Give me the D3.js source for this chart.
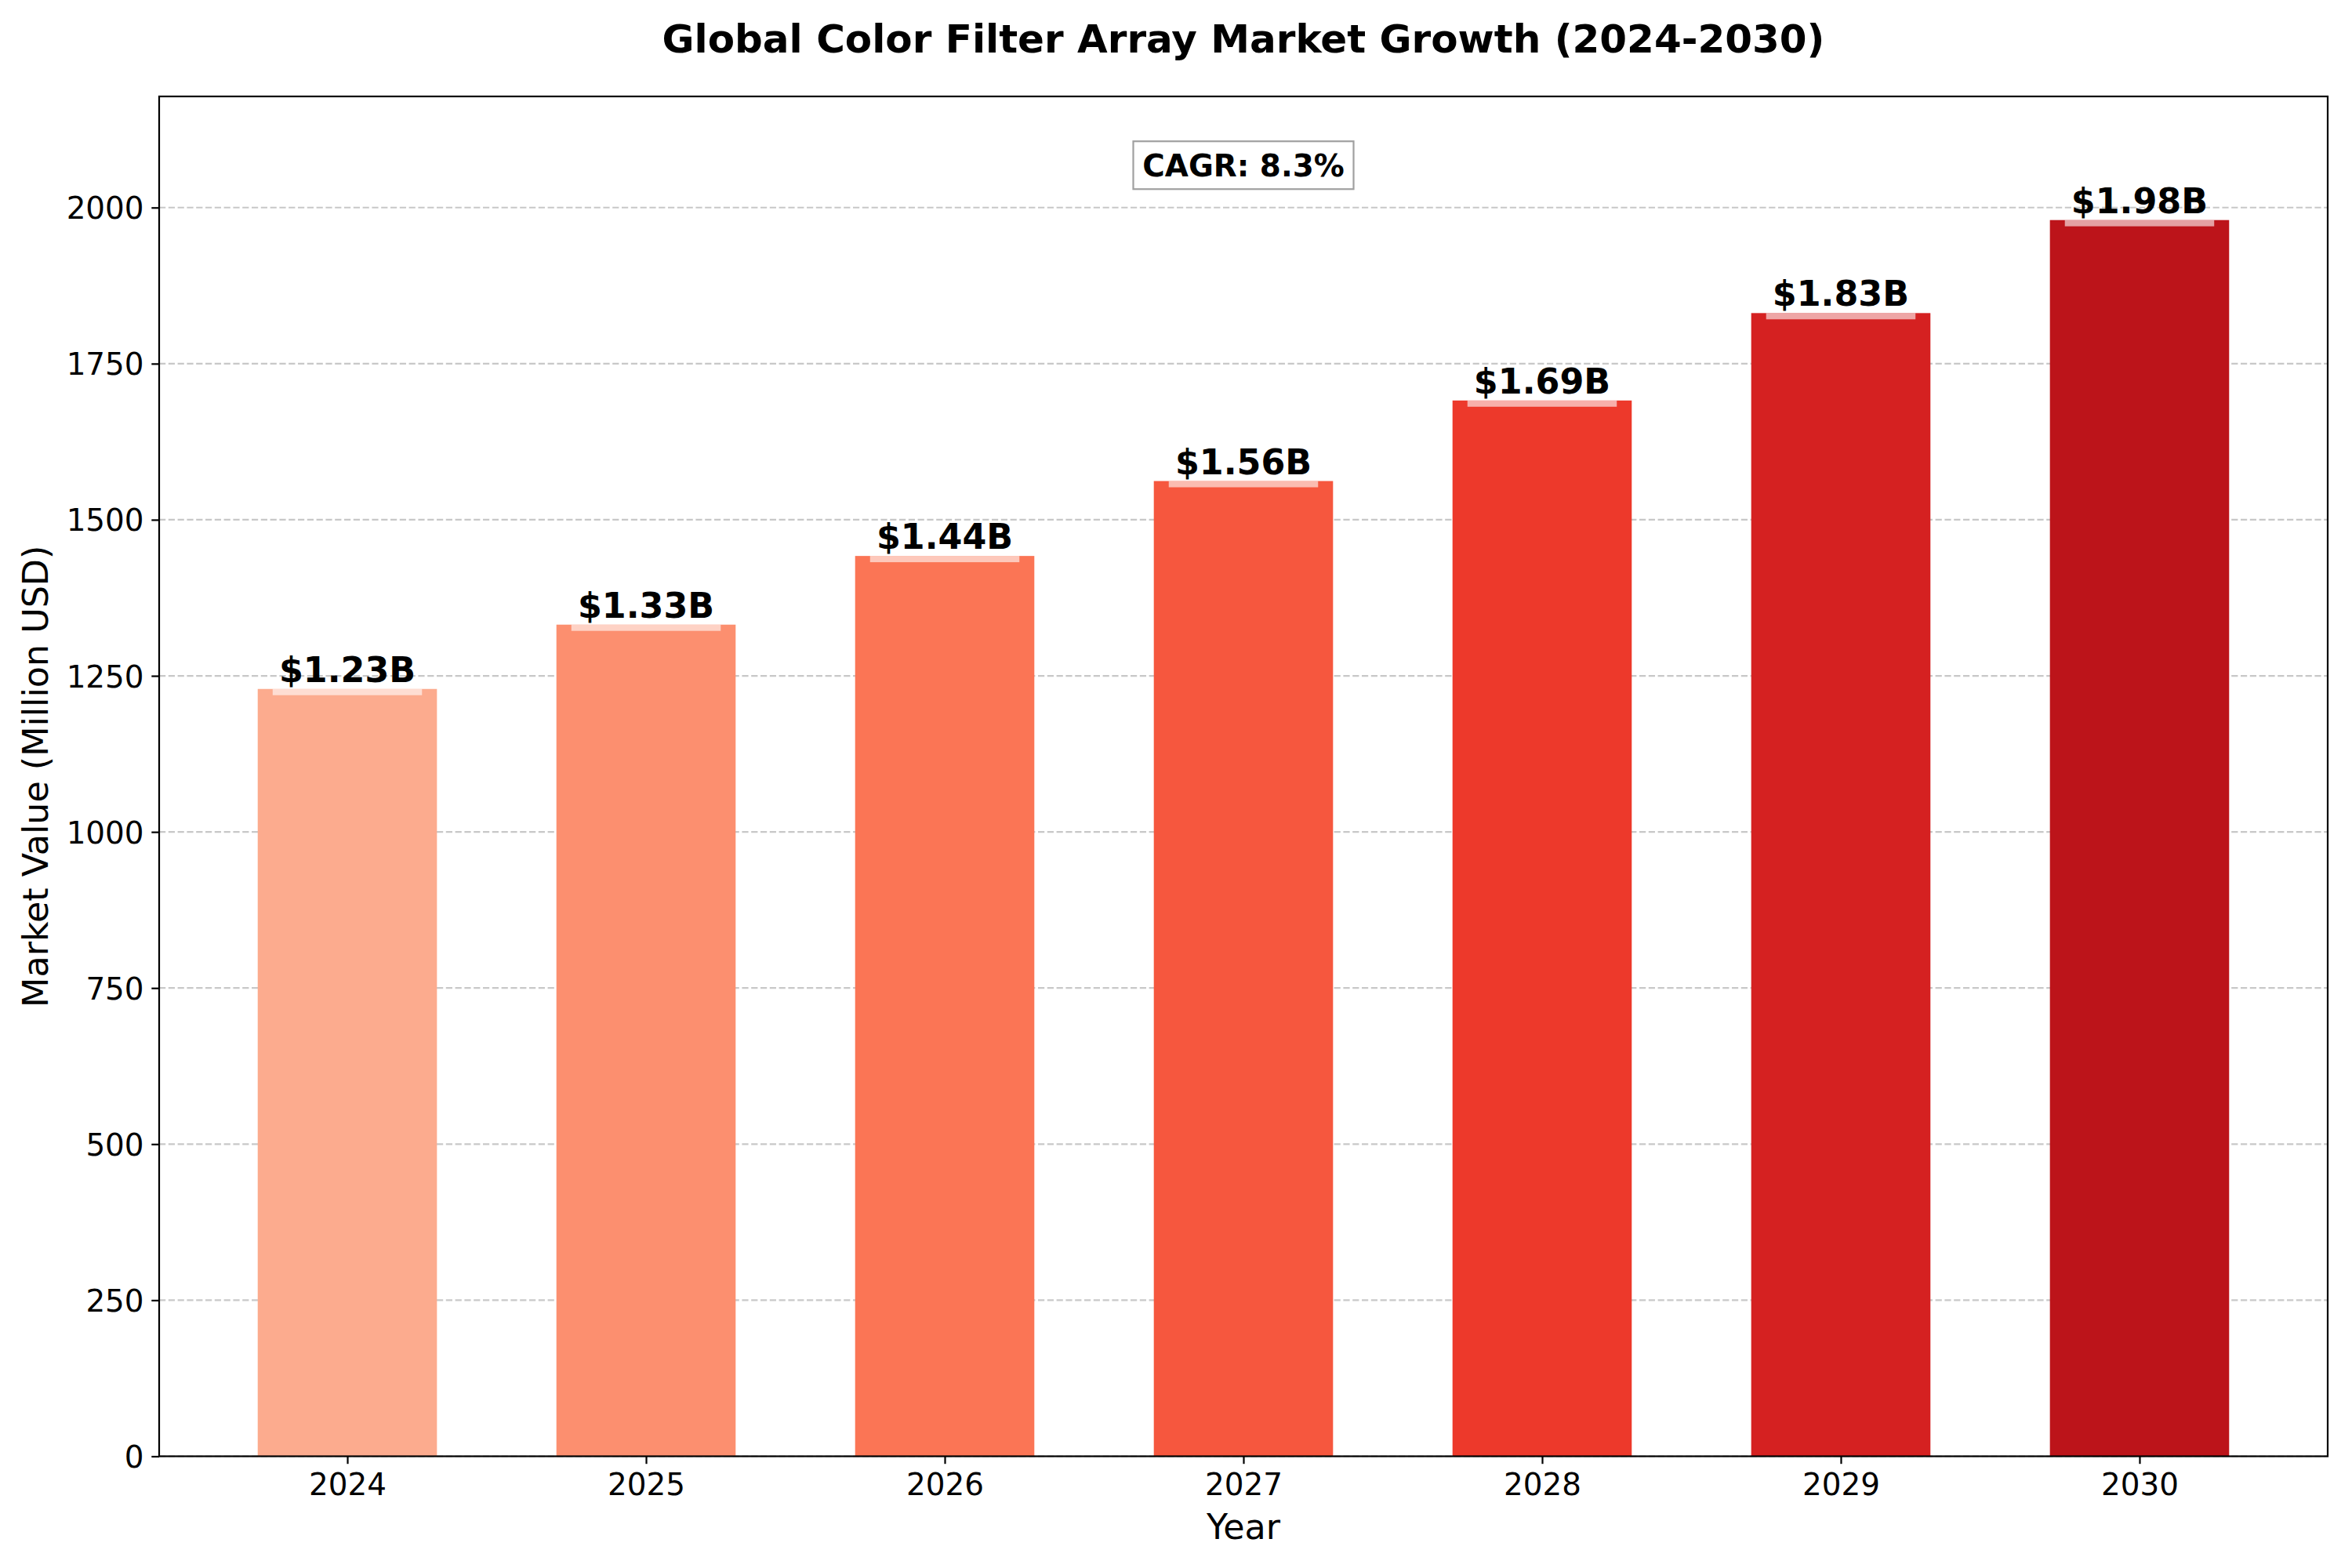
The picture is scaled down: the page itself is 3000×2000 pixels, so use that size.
<!DOCTYPE html>
<html>
<head>
<meta charset="utf-8">
<script src="https://cdn.jsdelivr.net/npm/d3@7"></script>
<style>
  html, body { margin: 0; padding: 0; background: #ffffff; }
  svg { display: block; }
  text { font-family: "DejaVu Sans", sans-serif; }
</style>
</head>
<body>
<svg id="chart" width="3000" height="2000"></svg>
<script>
// ---- data ----
const years = ["2024", "2025", "2026", "2027", "2028", "2029", "2030"];
const marketValues = [1229, 1332, 1442, 1562, 1691, 1831, 1980];
const barColors = ["#fcab8e", "#fc8f6f", "#fb7555", "#f6573e", "#ed392b", "#d52121", "#bc141a"];
const yTicks = [0, 250, 500, 750, 1000, 1250, 1500, 1750, 2000];
const titleText = "Global Color Filter Array Market Growth (2024-2030)";
const xLabelText = "Year";
const yLabelText = "Market Value (Million USD)";
const cagrText = "CAGR: 8.3%";

// ---- layout ----
const W = 3000, H = 2000;
const plotL = 203, plotR = 2969, plotT = 123, plotB = 1857.5;
const svg = d3.select("#chart");
svg.append("rect").attr("width", W).attr("height", H).attr("fill", "#ffffff");

const idx = years.map((d, i) => i);
const x = d3.scaleLinear().domain([-0.63, years.length - 1 + 0.63]).range([plotL, plotR]);
const yMax = d3.max(marketValues) * 1.1;
const y = d3.scaleLinear().domain([0, yMax]).range([plotB, plotT]);

// grid
const grid = svg.append("g");
grid.selectAll("line").data(yTicks).join("line")
  .attr("x1", plotL).attr("x2", plotR)
  .attr("y1", d => y(d)).attr("y2", d => y(d))
  .attr("stroke", "#b0b0b0").attr("stroke-opacity", 0.7)
  .attr("stroke-width", 2.2).attr("stroke-dasharray", "8.2,3.6");

// bars
const barW = 0.6, hiW = 0.5;
svg.append("g").selectAll("rect").data(idx).join("rect")
  .attr("x", i => x(i - barW / 2))
  .attr("width", i => x(i + barW / 2) - x(i - barW / 2))
  .attr("y", i => y(marketValues[i]))
  .attr("height", i => y(0) - y(marketValues[i]))
  .attr("fill", i => barColors[i]);

// highlight strips at the top of each bar
svg.append("g").selectAll("rect").data(idx).join("rect")
  .attr("x", i => x(i - hiW / 2))
  .attr("width", i => x(i + hiW / 2) - x(i - hiW / 2))
  .attr("y", i => y(marketValues[i]))
  .attr("height", i => y(marketValues[i] - 10) - y(marketValues[i]))
  .attr("fill", "#ffffff").attr("fill-opacity", 0.6);

// value labels
svg.append("g").selectAll("text").data(idx).join("text")
  .attr("x", i => x(i))
  .attr("y", i => y(marketValues[i]) - 9)
  .attr("text-anchor", "middle")
  .attr("font-size", 44.4).attr("font-weight", "bold").attr("fill", "#000")
  .text(i => "$" + (marketValues[i] / 1000).toFixed(2) + "B");

// axes
const xAxis = d3.axisBottom(x).tickValues(idx).tickFormat(i => years[i])
  .tickSizeInner(9.7).tickSizeOuter(0).tickPadding(9.7);
const gx = svg.append("g").attr("transform", `translate(0,${plotB})`).call(xAxis);
gx.select(".domain").remove();
gx.selectAll(".tick line").attr("stroke", "#000").attr("stroke-width", 2.2);
gx.selectAll(".tick text").attr("font-size", 38.9).attr("fill", "#000")
  .attr("font-family", "DejaVu Sans").attr("dy", null).attr("y", 49.5);

const yAxis = d3.axisLeft(y).tickValues(yTicks).tickFormat(d3.format("d"))
  .tickSizeInner(9.7).tickSizeOuter(0).tickPadding(9.7);
const gy = svg.append("g").attr("transform", `translate(${plotL},0)`).call(yAxis);
gy.select(".domain").remove();
gy.selectAll(".tick line").attr("stroke", "#000").attr("stroke-width", 2.2);
gy.selectAll(".tick text").attr("font-size", 38.9).attr("fill", "#000")
  .attr("font-family", "DejaVu Sans").attr("dy", "0.36em");

// frame
svg.append("rect")
  .attr("x", plotL).attr("y", plotT)
  .attr("width", plotR - plotL).attr("height", plotB - plotT)
  .attr("fill", "none").attr("stroke", "#000").attr("stroke-width", 2.2);

// CAGR box
const cx = (plotL + plotR) / 2;
const cy = plotT + (plotB - plotT) * 0.05 + 1;
const cagr = svg.append("g");
cagr.append("rect")
  .attr("x", cx - 140.5).attr("y", cy - 30.5)
  .attr("width", 281).attr("height", 61)
  .attr("fill", "#ffffff").attr("stroke", "#a0a0a0").attr("stroke-width", 2.2);
cagr.append("text")
  .attr("x", cx).attr("y", cy).attr("dy", "0.36em")
  .attr("text-anchor", "middle").attr("font-size", 38.9).attr("font-weight", "bold")
  .attr("fill", "#000").text(cagrText);

// title
svg.append("text")
  .attr("x", cx).attr("y", 67)
  .attr("text-anchor", "middle").attr("font-size", 50).attr("font-weight", "bold")
  .attr("fill", "#000").text(titleText);

// axis labels
svg.append("text")
  .attr("x", cx).attr("y", 1963)
  .attr("text-anchor", "middle").attr("font-size", 44.4).attr("fill", "#000")
  .text(xLabelText);
svg.append("text")
  .attr("transform", `translate(61,${(plotT + plotB) / 2}) rotate(-90)`)
  .attr("text-anchor", "middle").attr("font-size", 44.4).attr("fill", "#000")
  .text(yLabelText);
</script>
</body>
</html>
